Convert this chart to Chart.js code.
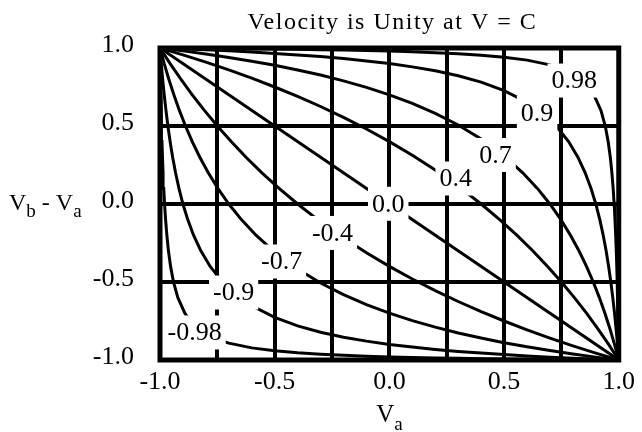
<!DOCTYPE html>
<html>
<head>
<meta charset="utf-8">
<title>Velocity is Unity at V = C</title>
<script src="https://cdn.jsdelivr.net/npm/chart.js@4.4.1/dist/chart.umd.min.js"></script>
<style>
  html, body { margin: 0; padding: 0; background: #fff; }
  canvas { display: block; }
</style>
</head>
<body>
<canvas id="velocityChart" width="642" height="432"></canvas>
<script>
const serif = '"Liberation Serif", "Times New Roman", serif';
const ink = '#000';

// contour levels of the combined velocity (Va + Vb) / (1 + Va*Vb)
const levels = [-0.98, -0.9, -0.7, -0.4, 0.0, 0.4, 0.7, 0.9, 0.98];

// [Va, Vb] points along each contour
const curve_n098 = [[1,-1],[0.9,-0.9989],[0.8,-0.9978],[0.7,-0.9964],[0.6,-0.995],[0.5,-0.9933],[0.4,-0.9914],[0.3,-0.9892],[0.2,-0.9866],[0.1,-0.9836],[0,-0.98],[-0.1,-0.9756],[-0.2,-0.9701],[-0.3,-0.9632],[-0.4,-0.9539],[-0.5,-0.9412],[-0.6,-0.9223],[-0.7,-0.8917],[-0.75,-0.8679],[-0.8,-0.8333],[-0.8174,-0.8174],[-0.8333,-0.8],[-0.8679,-0.75],[-0.8917,-0.7],[-0.9223,-0.6],[-0.9412,-0.5],[-0.9539,-0.4],[-0.9632,-0.3],[-0.9701,-0.2],[-0.9756,-0.1],[-0.98,0],[-0.9836,0.1],[-0.9866,0.2],[-0.9892,0.3],[-0.9914,0.4],[-0.9933,0.5],[-0.995,0.6],[-0.9964,0.7],[-0.9978,0.8],[-0.9989,0.9],[-1,1]];
const curve_n09 = [[1,-1],[0.9,-0.9945],[0.8,-0.9884],[0.7,-0.9816],[0.6,-0.974],[0.5,-0.9655],[0.4,-0.9559],[0.3,-0.9449],[0.2,-0.9322],[0.1,-0.9174],[0,-0.9],[-0.1,-0.8791],[-0.2,-0.8537],[-0.3,-0.8219],[-0.4,-0.7813],[-0.5,-0.7273],[-0.6,-0.6522],[-0.6268,-0.6268],[-0.6522,-0.6],[-0.7273,-0.5],[-0.7813,-0.4],[-0.8219,-0.3],[-0.8537,-0.2],[-0.8791,-0.1],[-0.9,0],[-0.9174,0.1],[-0.9322,0.2],[-0.9449,0.3],[-0.9559,0.4],[-0.9655,0.5],[-0.974,0.6],[-0.9816,0.7],[-0.9884,0.8],[-0.9945,0.9],[-1,1]];
const curve_n07 = [[1,-1],[0.9,-0.9816],[0.8,-0.9615],[0.7,-0.9396],[0.6,-0.9155],[0.5,-0.8889],[0.4,-0.8594],[0.3,-0.8264],[0.2,-0.7895],[0.1,-0.7477],[0,-0.7],[-0.1,-0.6452],[-0.2,-0.5814],[-0.3,-0.5063],[-0.4,-0.4167],[-0.4084,-0.4084],[-0.4167,-0.4],[-0.5063,-0.3],[-0.5814,-0.2],[-0.6452,-0.1],[-0.7,0],[-0.7477,0.1],[-0.7895,0.2],[-0.8264,0.3],[-0.8594,0.4],[-0.8889,0.5],[-0.9155,0.6],[-0.9396,0.7],[-0.9615,0.8],[-0.9816,0.9],[-1,1]];
const curve_n04 = [[1,-1],[0.9,-0.9559],[0.8,-0.9091],[0.7,-0.8594],[0.6,-0.8065],[0.5,-0.75],[0.4,-0.6897],[0.3,-0.625],[0.2,-0.5556],[0.1,-0.4808],[0,-0.4],[-0.1,-0.3125],[-0.2,-0.2174],[-0.2087,-0.2087],[-0.2174,-0.2],[-0.3125,-0.1],[-0.4,0],[-0.4808,0.1],[-0.5556,0.2],[-0.625,0.3],[-0.6897,0.4],[-0.75,0.5],[-0.8065,0.6],[-0.8594,0.7],[-0.9091,0.8],[-0.9559,0.9],[-1,1]];
const curve_00 = [[-1,1],[-0.5,0.5],[0,0],[0.5,-0.5],[1,-1]];
const curve_p04 = [[-1,1],[-0.9,0.9559],[-0.8,0.9091],[-0.7,0.8594],[-0.6,0.8065],[-0.5,0.75],[-0.4,0.6897],[-0.3,0.625],[-0.2,0.5556],[-0.1,0.4808],[0,0.4],[0.1,0.3125],[0.2,0.2174],[0.2087,0.2087],[0.2174,0.2],[0.3125,0.1],[0.4,0],[0.4808,-0.1],[0.5556,-0.2],[0.625,-0.3],[0.6897,-0.4],[0.75,-0.5],[0.8065,-0.6],[0.8594,-0.7],[0.9091,-0.8],[0.9559,-0.9],[1,-1]];
const curve_p07 = [[-1,1],[-0.9,0.9816],[-0.8,0.9615],[-0.7,0.9396],[-0.6,0.9155],[-0.5,0.8889],[-0.4,0.8594],[-0.3,0.8264],[-0.2,0.7895],[-0.1,0.7477],[0,0.7],[0.1,0.6452],[0.2,0.5814],[0.3,0.5063],[0.4,0.4167],[0.4084,0.4084],[0.4167,0.4],[0.5063,0.3],[0.5814,0.2],[0.6452,0.1],[0.7,0],[0.7477,-0.1],[0.7895,-0.2],[0.8264,-0.3],[0.8594,-0.4],[0.8889,-0.5],[0.9155,-0.6],[0.9396,-0.7],[0.9615,-0.8],[0.9816,-0.9],[1,-1]];
const curve_p09 = [[-1,1],[-0.9,0.9945],[-0.8,0.9884],[-0.7,0.9816],[-0.6,0.974],[-0.5,0.9655],[-0.4,0.9559],[-0.3,0.9449],[-0.2,0.9322],[-0.1,0.9174],[0,0.9],[0.1,0.8791],[0.2,0.8537],[0.3,0.8219],[0.4,0.7813],[0.5,0.7273],[0.6,0.6522],[0.6268,0.6268],[0.6522,0.6],[0.7273,0.5],[0.7813,0.4],[0.8219,0.3],[0.8537,0.2],[0.8791,0.1],[0.9,0],[0.9174,-0.1],[0.9322,-0.2],[0.9449,-0.3],[0.9559,-0.4],[0.9655,-0.5],[0.974,-0.6],[0.9816,-0.7],[0.9884,-0.8],[0.9945,-0.9],[1,-1]];
const curve_p098 = [[-1,1],[-0.9,0.9989],[-0.8,0.9978],[-0.7,0.9964],[-0.6,0.995],[-0.5,0.9933],[-0.4,0.9914],[-0.3,0.9892],[-0.2,0.9866],[-0.1,0.9836],[0,0.98],[0.1,0.9756],[0.2,0.9701],[0.3,0.9632],[0.4,0.9539],[0.5,0.9412],[0.6,0.9223],[0.7,0.8917],[0.75,0.8679],[0.8,0.8333],[0.8174,0.8174],[0.8333,0.8],[0.8679,0.75],[0.8917,0.7],[0.9223,0.6],[0.9412,0.5],[0.9539,0.4],[0.9632,0.3],[0.9701,0.2],[0.9756,0.1],[0.98,0],[0.9836,-0.1],[0.9866,-0.2],[0.9892,-0.3],[0.9914,-0.4],[0.9933,-0.5],[0.995,-0.6],[0.9964,-0.7],[0.9978,-0.8],[0.9989,-0.9],[1,-1]];

const curves = [curve_n098, curve_n09, curve_n07, curve_n04, curve_00, curve_p04, curve_p07, curve_p09, curve_p098];

// where each contour carries its value label
const labelVa = [-0.849, -0.679, -0.470, -0.248, -0.005, 0.289, 0.463, 0.644, 0.806];
const labelVb = [-0.830, -0.574, -0.375, -0.192, -0.005, 0.157, 0.308, 0.577, 0.785];

// labelled tick values (grid runs every 0.25 on Va)
const axisTicks = [-1.0, -0.5, 0.0, 0.5, 1.0];

// draws runs of [text, isSubscript] left to right
function drawRuns(ctx, runs, x, y, size, subSize, drop) {
  runs.forEach(([txt, sub]) => {
    ctx.font = (sub ? subSize : size) + 'px ' + serif;
    ctx.fillText(txt, x, sub ? y + drop : y);
    x += ctx.measureText(txt).width;
  });
}
function runsWidth(ctx, runs, size, subSize) {
  return runs.reduce((w, [txt, sub]) => {
    ctx.font = (sub ? subSize : size) + 'px ' + serif;
    return w + ctx.measureText(txt).width;
  }, 0);
}

const decor = {
  id: 'decor',
  beforeDraw(chart) {
    const ctx = chart.ctx;
    ctx.save();
    ctx.fillStyle = '#fff';
    ctx.fillRect(0, 0, chart.width, chart.height);
    ctx.restore();
  },
  afterDatasetsDraw(chart) {
    const { ctx, chartArea: a, scales: { x, y } } = chart;
    ctx.save();
    ctx.strokeStyle = ink;
    ctx.lineWidth = 5;
    ctx.strokeRect(a.left, a.top, a.right - a.left, a.bottom - a.top);

    // contour values sit in white boxes that break the lines
    ctx.font = '26px ' + serif;
    ctx.textAlign = 'center';
    ctx.textBaseline = 'middle';
    levels.forEach((lv, i) => {
      const txt = lv === 0 ? '0.0' : String(lv);
      const px = x.getPixelForValue(labelVa[i]);
      const py = y.getPixelForValue(labelVb[i]);
      const w = ctx.measureText(txt).width + 8;
      ctx.fillStyle = '#fff';
      ctx.fillRect(px - w / 2, py - 18, w, 34);
      ctx.fillStyle = ink;
      ctx.fillText(txt, px, py);
    });
    ctx.restore();
  },
  afterDraw(chart) {
    const { ctx, chartArea: a } = chart;
    ctx.save();
    ctx.fillStyle = ink;
    ctx.textBaseline = 'alphabetic';

    // title
    ctx.font = '24px ' + serif;
    ctx.letterSpacing = '1.5px';
    ctx.textAlign = 'center';
    ctx.fillText('Velocity is Unity at V = C', (a.left + a.right) / 2 + 3, 29);
    ctx.letterSpacing = '0px';

    // axis titles with subscripts
    ctx.textAlign = 'left';
    const yRuns = [['V', false], ['b', true], [' - ', false], ['V', false], ['a', true]];
    drawRuns(ctx, yRuns, 9, 210, 24, 19, 7);
    const xRuns = [['V', false], ['a', true]];
    const xw = runsWidth(ctx, xRuns, 25, 19);
    drawRuns(ctx, xRuns, (a.left + a.right) / 2 - xw / 2, 422, 25, 19, 8);
    ctx.restore();
  }
};

const tickFont = { family: serif, size: 26 };
const labelTick = (v) => axisTicks.some(t => Math.abs(t - v) < 1e-9) ? v.toFixed(1) : '';

new Chart(document.getElementById('velocityChart'), {
  type: 'scatter',
  data: {
    datasets: curves.map((pts, i) => ({
      label: String(levels[i]),
      data: pts.map(([va, vb]) => ({ x: va, y: vb })),
      showLine: true,
      borderColor: ink,
      borderWidth: 3,
      pointRadius: 0,
      tension: 0,
      fill: false
    }))
  },
  options: {
    responsive: false,
    animation: false,
    devicePixelRatio: 1,
    events: [],
    layout: { padding: { top: 48, right: 18, bottom: 0, left: 0 } },
    plugins: {
      legend: { display: false },
      tooltip: { enabled: false }
    },
    scales: {
      x: {
        type: 'linear',
        min: -1,
        max: 1,
        afterFit: (s) => { s.height = 72; },
        border: { display: false },
        grid: { color: ink, lineWidth: 4, drawTicks: false },
        ticks: {
          stepSize: 0.25,
          autoSkip: false,
          maxRotation: 0,
          padding: 7,
          color: ink,
          font: tickFont,
          callback: labelTick
        }
      },
      y: {
        type: 'linear',
        min: -1,
        max: 1,
        afterFit: (s) => { s.width = 160; },
        border: { display: false },
        grid: { color: ink, lineWidth: 4, drawTicks: false },
        ticks: {
          stepSize: 0.5,
          padding: 26,
          labelOffset: -3,
          color: ink,
          font: tickFont,
          callback: labelTick
        }
      }
    }
  },
  plugins: [decor]
});
</script>
</body>
</html>
